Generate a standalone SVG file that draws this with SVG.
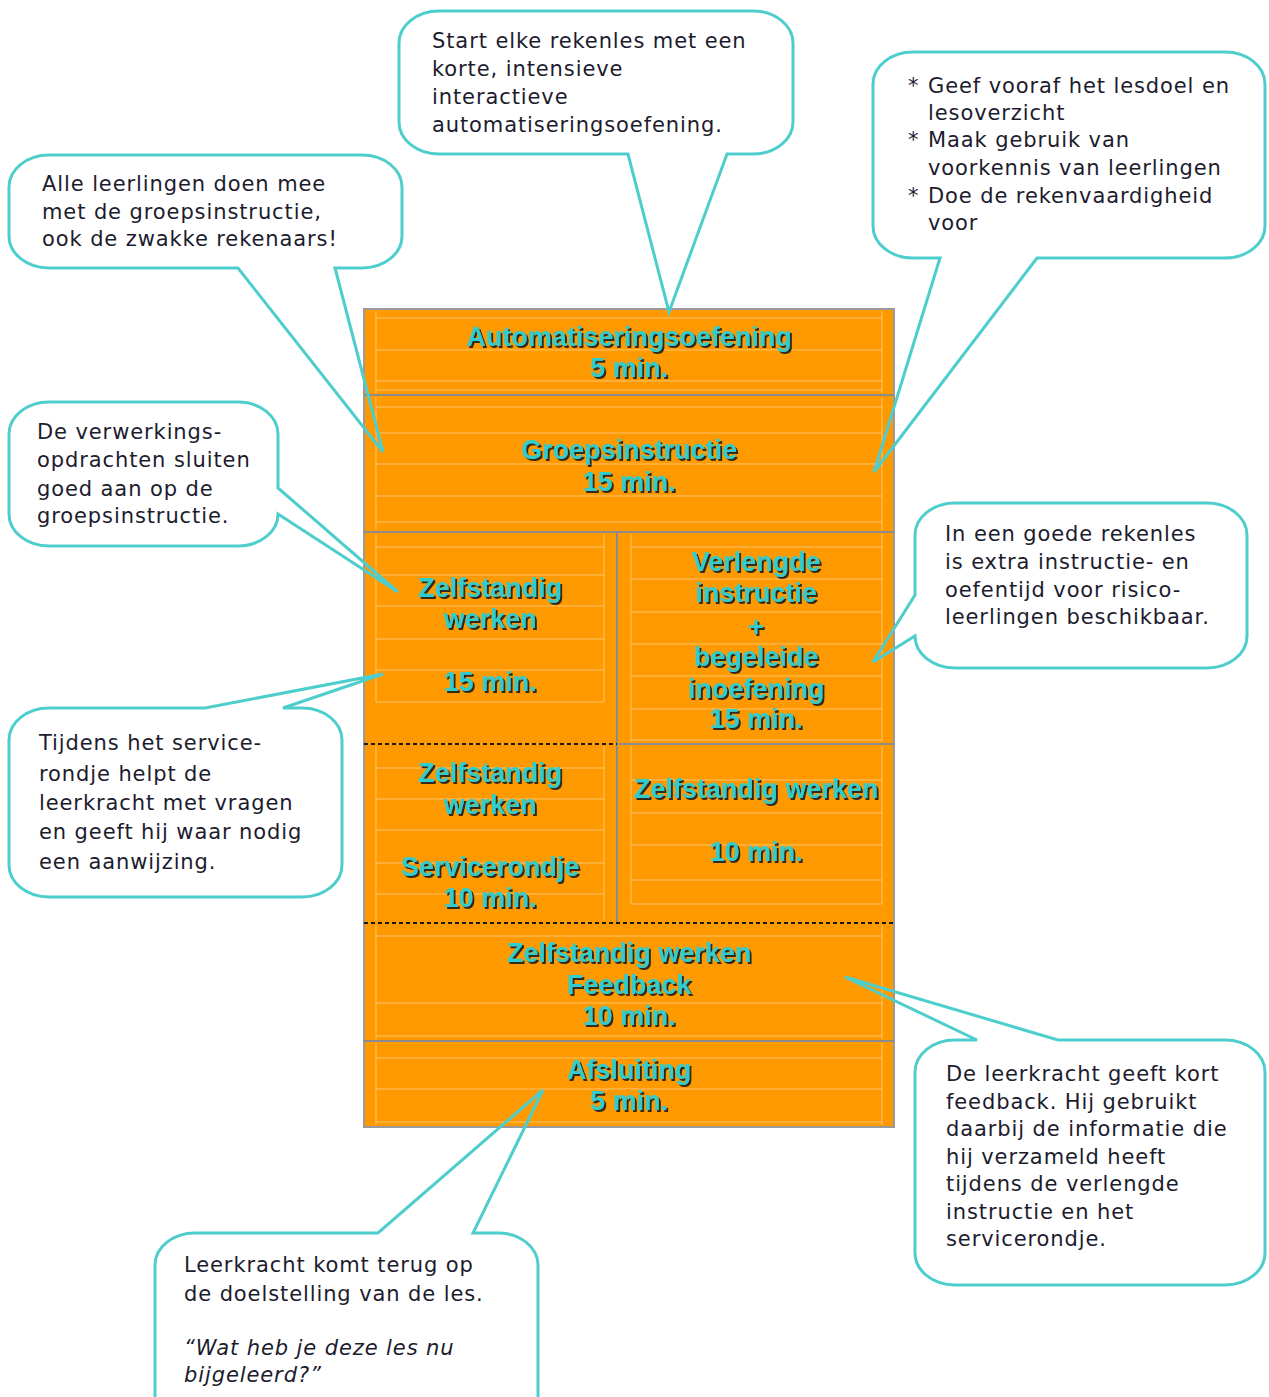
<svg xmlns="http://www.w3.org/2000/svg" width="1269" height="1397" viewBox="0 0 1269 1397">
<defs>
<filter id="shadow" x="-10%" y="-30%" width="120%" height="160%">
<feDropShadow dx="2" dy="2" stdDeviation="0.6" flood-color="#1a1a1a" flood-opacity="0.9"/>
</filter>
<style>
.bt{font-family:"Liberation Sans",Arial,sans-serif;font-weight:bold;font-size:27px;fill:#33CCCC;text-anchor:middle;filter:url(#shadow)}
.ct{font-family:"DejaVu Sans",Verdana,sans-serif;font-size:21px;letter-spacing:0.9px;fill:#1c1c2e}
.it{font-style:italic}
.bub{fill:none;stroke:#4ECDCD;stroke-width:3;stroke-linejoin:miter}
.lt{stroke:#FFC470;stroke-width:1;fill:none}
.dv{stroke:#8C8C8C;stroke-width:2;fill:none}
.dot{stroke:#1a1a1a;stroke-width:2;stroke-dasharray:4 3;fill:none}
</style>
</defs>
<rect width="1269" height="1397" fill="#FFFFFF"/>

<g id="lesson-block">
<rect x="364" y="309" width="530" height="818" fill="#FF9900" stroke="#9A9A9A" stroke-width="2"/>
<g class="lt">
<path d="M376,311V393M882,311V393M376,318H882M376,350H882M376,381H882M376,390H882"/>
<path d="M376,397V530M882,397V530M376,407H882M376,433H882M376,464H882M376,496H882M376,522H882"/>
<path d="M376,534V702M604,534V702M376,547H604M376,575H604M376,606H604M376,639H604M376,670H604M376,702H604"/>
<path d="M631,534V742M882,534V742M631,547H882M631,579H882M631,612H882M631,644H882M631,676H882M631,709H882M631,740H882"/>
<path d="M376,746V921M604,746V921M376,768H604M376,799H604M376,830H604M376,863H604M376,894H604"/>
<path d="M631,746V904M882,746V904M631,780H882M631,813H882M631,845H882M631,880H882M631,904H882"/>
<path d="M376,925V1039M882,925V1039M376,936H882M376,1003H882M376,1036H882"/>
<path d="M376,1043V1125M882,1043V1125M376,1058H882M376,1089H882M376,1122H882"/>
</g>
<path class="dv" d="M364,395H894M364,532H894M364,1041H894M617,532V923M617,744H894"/>
<path class="dot" d="M364,744H617M364,923H894"/>
</g>

<g id="automatisering">
<text class="bt" x="629" y="346">Automatiseringsoefening</text>
<text class="bt" x="629" y="377">5 min.</text>
</g>
<g id="groepsinstructie">
<text class="bt" x="629" y="459">Groepsinstructie</text>
<text class="bt" x="629" y="491">15 min.</text>
</g>
<g id="zelfstandig-1">
<text class="bt" x="490" y="597">Zelfstandig</text>
<text class="bt" x="490" y="628">werken</text>
<text class="bt" x="490" y="691">15 min.</text>
</g>
<g id="verlengde-instructie">
<text class="bt" x="756" y="571">Verlengde</text>
<text class="bt" x="756" y="602">instructie</text>
<text class="bt" x="756" y="636">+</text>
<text class="bt" x="756" y="666">begeleide</text>
<text class="bt" x="756" y="698">inoefening</text>
<text class="bt" x="756" y="728">15 min.</text>
</g>
<g id="zelfstandig-service">
<text class="bt" x="490" y="782">Zelfstandig</text>
<text class="bt" x="490" y="814">werken</text>
<text class="bt" x="490" y="876">Servicerondje</text>
<text class="bt" x="490" y="907">10 min.</text>
</g>
<g id="zelfstandig-2">
<text class="bt" x="756" y="798">Zelfstandig werken</text>
<text class="bt" x="756" y="861">10 min.</text>
</g>
<g id="feedback">
<text class="bt" x="629" y="962">Zelfstandig werken</text>
<text class="bt" x="629" y="994">Feedback</text>
<text class="bt" x="629" y="1025">10 min.</text>
</g>
<g id="afsluiting">
<text class="bt" x="629" y="1079">Afsluiting</text>
<text class="bt" x="629" y="1110">5 min.</text>
</g>

<g id="connectors">
<path id="callout-start" class="bub" d="M439,11H753A40,32 0 0 1 793,43V122A40,32 0 0 1 753,154H727L669,312L628,154H439A40,32 0 0 1 399,122V43A40,32 0 0 1 439,11Z"/>
<path id="callout-alle" class="bub" d="M49,155H362A40,32 0 0 1 402,187V236A40,32 0 0 1 362,268H335L383,452L238,268H49A40,32 0 0 1 9,236V187A40,32 0 0 1 49,155Z"/>
<path id="callout-geef" class="bub" d="M913,52H1225A40,32 0 0 1 1265,84V226A40,32 0 0 1 1225,258H1037L874,472L940,258H913A40,32 0 0 1 873,226V84A40,32 0 0 1 913,52Z"/>
<path id="callout-verwerking" class="bub" d="M49,402H238A40,32 0 0 1 278,434V488L398,592L278,514A40,32 0 0 1 238,546H49A40,32 0 0 1 9,514V434A40,32 0 0 1 49,402Z"/>
<path id="callout-tijdens" class="bub" d="M49,708H205L383,674L283,708H302A40,32 0 0 1 342,740V865A40,32 0 0 1 302,897H49A40,32 0 0 1 9,865V740A40,32 0 0 1 49,708Z"/>
<path id="callout-extra" class="bub" d="M955,503H1207A40,32 0 0 1 1247,535V636A40,32 0 0 1 1207,668H955A40,32 0 0 1 915,636L873,662L915,595V535A40,32 0 0 1 955,503Z"/>
<path id="callout-feedback" class="bub" d="M955,1040H977L845,977L1058,1040H1225A40,32 0 0 1 1265,1072V1253A40,32 0 0 1 1225,1285H955A40,32 0 0 1 915,1253V1072A40,32 0 0 1 955,1040Z"/>
<path id="callout-afsluiting" class="bub" d="M195,1233H378L543,1090L473,1233H498A40,32 0 0 1 538,1265V1400A40,32 0 0 1 498,1432H195A40,32 0 0 1 155,1400V1265A40,32 0 0 1 195,1233Z"/>
</g>

<g id="note-start">
<text class="ct" x="432" y="48">Start elke rekenles met een</text>
<text class="ct" x="432" y="76">korte, intensieve</text>
<text class="ct" x="432" y="104">interactieve</text>
<text class="ct" x="432" y="132">automatiseringsoefening.</text>
</g>
<g id="note-alle">
<text class="ct" x="42" y="191">Alle leerlingen doen mee</text>
<text class="ct" x="42" y="219">met de groepsinstructie,</text>
<text class="ct" x="42" y="246">ook de zwakke rekenaars!</text>
</g>
<g id="note-geef">
<text class="ct" x="908" y="93">*</text>
<text class="ct" x="928" y="93">Geef vooraf het lesdoel en</text>
<text class="ct" x="928" y="120">lesoverzicht</text>
<text class="ct" x="908" y="147">*</text>
<text class="ct" x="928" y="147">Maak gebruik van</text>
<text class="ct" x="928" y="175">voorkennis van leerlingen</text>
<text class="ct" x="908" y="203">*</text>
<text class="ct" x="928" y="203">Doe de rekenvaardigheid</text>
<text class="ct" x="928" y="230">voor</text>
</g>
<g id="note-verwerking">
<text class="ct" x="37" y="439">De verwerkings-</text>
<text class="ct" x="37" y="467">opdrachten sluiten</text>
<text class="ct" x="37" y="496">goed aan op de</text>
<text class="ct" x="37" y="523">groepsinstructie.</text>
</g>
<g id="note-tijdens">
<text class="ct" x="39" y="750">Tijdens het service-</text>
<text class="ct" x="39" y="781">rondje helpt de</text>
<text class="ct" x="39" y="810">leerkracht met vragen</text>
<text class="ct" x="39" y="839">en geeft hij waar nodig</text>
<text class="ct" x="39" y="869">een aanwijzing.</text>
</g>
<g id="note-extra">
<text class="ct" x="945" y="541">In een goede rekenles</text>
<text class="ct" x="945" y="569">is extra instructie- en</text>
<text class="ct" x="945" y="597">oefentijd voor risico-</text>
<text class="ct" x="945" y="624">leerlingen beschikbaar.</text>
</g>
<g id="note-feedback">
<text class="ct" x="946" y="1081">De leerkracht geeft kort</text>
<text class="ct" x="946" y="1109">feedback. Hij gebruikt</text>
<text class="ct" x="946" y="1136">daarbij de informatie die</text>
<text class="ct" x="946" y="1164">hij verzameld heeft</text>
<text class="ct" x="946" y="1191">tijdens de verlengde</text>
<text class="ct" x="946" y="1219">instructie en het</text>
<text class="ct" x="946" y="1246">servicerondje.</text>
</g>
<g id="note-afsluiting">
<text class="ct" x="184" y="1272">Leerkracht komt terug op</text>
<text class="ct" x="184" y="1301">de doelstelling van de les.</text>
<text class="ct it" x="184" y="1355">“Wat heb je deze les nu</text>
<text class="ct it" x="184" y="1382">bijgeleerd?”</text>
</g>
</svg>
